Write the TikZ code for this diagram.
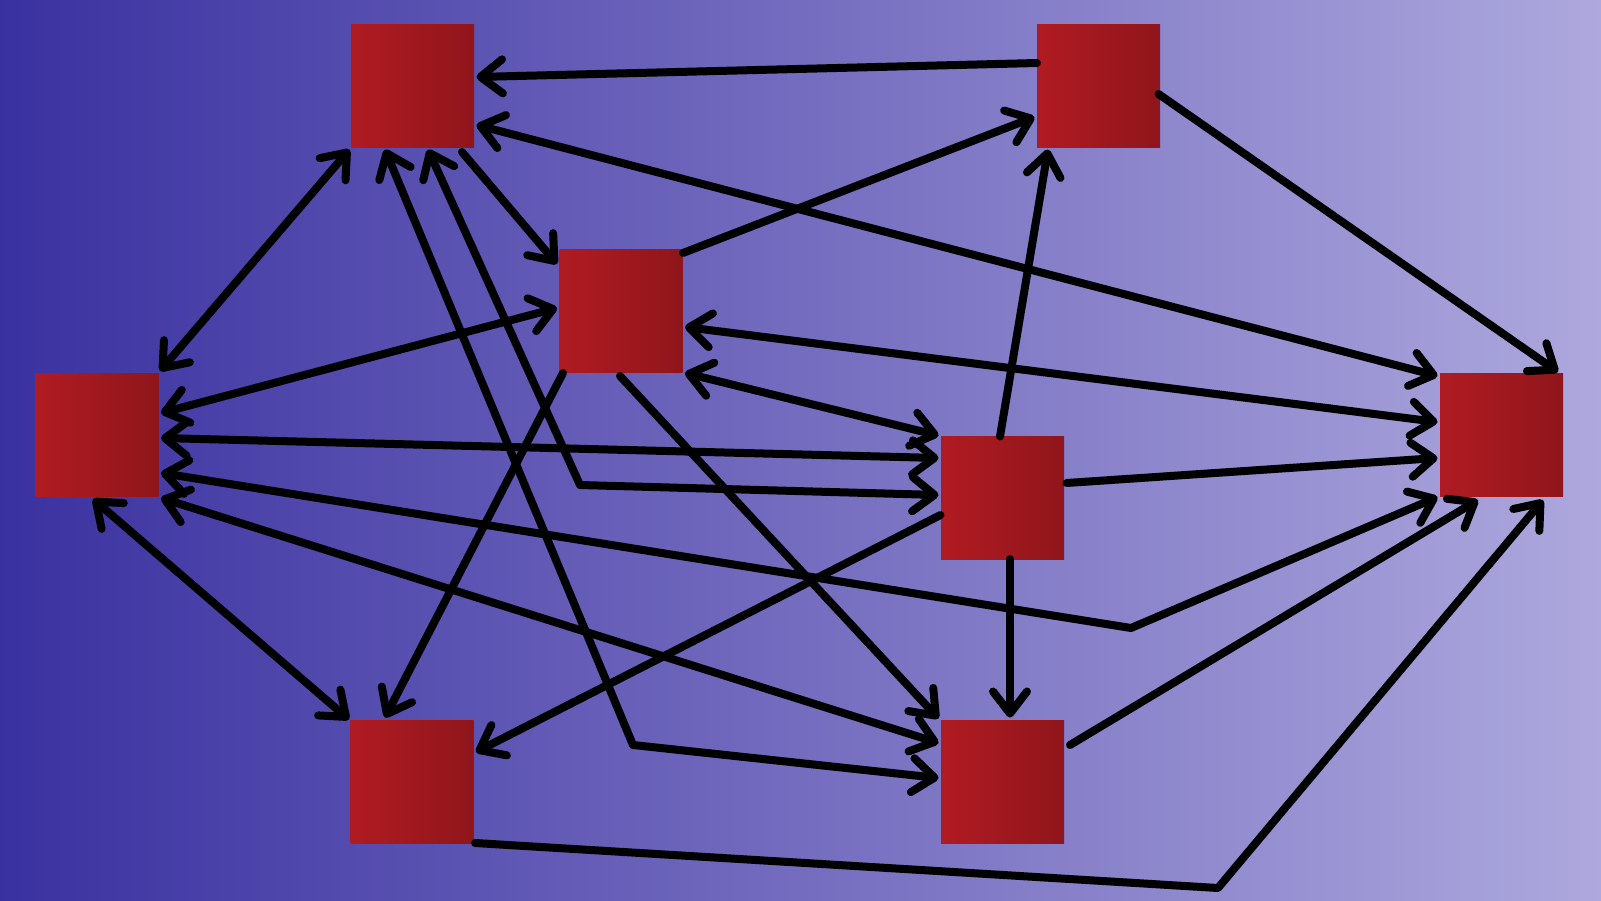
\documentclass[tikz,border=0pt]{standalone}
\usetikzlibrary{arrows.meta,calc}
\definecolor{bgL}{HTML}{3A31A0}
\definecolor{bgM}{HTML}{6A62BC}
\definecolor{bgR}{HTML}{AEA8DE}
\definecolor{redL}{HTML}{B01B22}
\definecolor{redR}{HTML}{8F161B}
\tikzset{
  box/.style={rectangle, minimum size=123pt, inner sep=0pt, outer sep=0pt,
    left color=redL, right color=redR, draw=none},
  conn/.style={line width=8pt, line cap=round, line join=round, black},
  tipa/.tip={Straight Barb[length=22pt,width=34pt,round]},
  one/.style={conn, -tipa},
  two/.style={conn, tipa-tipa}
}
\begin{document}
\begin{tikzpicture}[x=1pt,y=-1pt]
\useasboundingbox (0,0) rectangle (1601,900);
\shade[left color=bgL, middle color=bgM, right color=bgR] (0,0) rectangle (1601,900);

\node[box] (A) at (412.5,85.5) {};
\node[box] (B) at (1098.5,85.5) {};
\node[box] (C) at (621,311) {};
\node[box] (D) at (97,435) {};
\node[box] (E) at (1002.5,497.5) {};
\node[box] (F) at (1501.5,435) {};
\node[box] (G) at (412,781.5) {};
\node[box] (H) at (1002.5,781.5) {};

\coordinate (bAH) at (633,745);
\coordinate (bAE) at (580,485);
\coordinate (bDF) at (1131,628);
\coordinate (bGF) at (1218,888);

% B -> A
\draw[one] ($(B)+(-61.5,-22.5)$) -- ($(A)+(64,-8.5)$);
% A <-> F
\draw[two] ($(A)+(64,39.5)$) -- ($(F)+(-64,-59)$);
% A -> C
\draw[one] ($(A)+(49.5,66.5)$) -- ($(C)+(-64,-47)$);
% A <-> D
\draw[two] ($(A)+(-63,64)$) -- ($(D)+(63,-64)$);
% A <-> H (bent)
\draw[two] ($(A)+(-27.5,64)$) -- (bAH) -- ($(H)+(-64,-3.5)$);
% A <-> E (bent)
\draw[two] ($(A)+(15.5,64)$) -- (bAE) -- ($(E)+(-64,-2.5)$);
% B -> F
\draw[one] ($(B)+(60,8.5)$) -- ($(F)+(56.5,-63)$);
% C -> B
\draw[one] ($(C)+(62,-58)$) -- ($(B)+(-64,31.5)$);
% C <-> F
\draw[two] ($(C)+(64,16)$) -- ($(F)+(-64,-13)$);
% C <-> E
\draw[two] ($(C)+(64,62)$) -- ($(E)+(-64,-62)$);
% C <-> D
\draw[two] ($(C)+(-64,-3)$) -- ($(D)+(64,-22)$);
% C -> G
\draw[one] ($(C)+(-58,62)$) -- ($(G)+(-27,-64)$);
% C -> H
\draw[one] ($(C)+(-1,65)$) -- ($(H)+(-64,-63)$);
% D <-> E
\draw[two] ($(D)+(64,3)$) -- ($(E)+(-64,-39.5)$);
% D <-> F (bent)
\draw[two] ($(D)+(64,38)$) -- (bDF) -- ($(F)+(-64,62)$);
% D <-> H
\draw[two] ($(D)+(64,63)$) -- ($(H)+(-64,-38.5)$);
% D <-> G
\draw[two] ($(D)+(-4,64)$) -- ($(G)+(-63,-62)$);
% E -> B
\draw[one] ($(E)+(-2.5,-61)$) -- ($(B)+(-50.5,64)$);
% E -> F
\draw[one] ($(E)+(64,-14.5)$) -- ($(F)+(-64,23)$);
% E -> G
\draw[one] ($(E)+(-62,17.5)$) -- ($(G)+(64,-29.5)$);
% E -> H
\draw[one] ($(E)+(7.5,61.5)$) -- ($(H)+(7.5,-64)$);
% H -> F
\draw[one] ($(H)+(67.5,-36.5)$) -- ($(F)+(-23.5,65)$);
% G -> F (bent)
\draw[one] ($(G)+(63,61.5)$) -- (bGF) -- ($(F)+(41.5,65)$);
\end{tikzpicture}
\end{document}
